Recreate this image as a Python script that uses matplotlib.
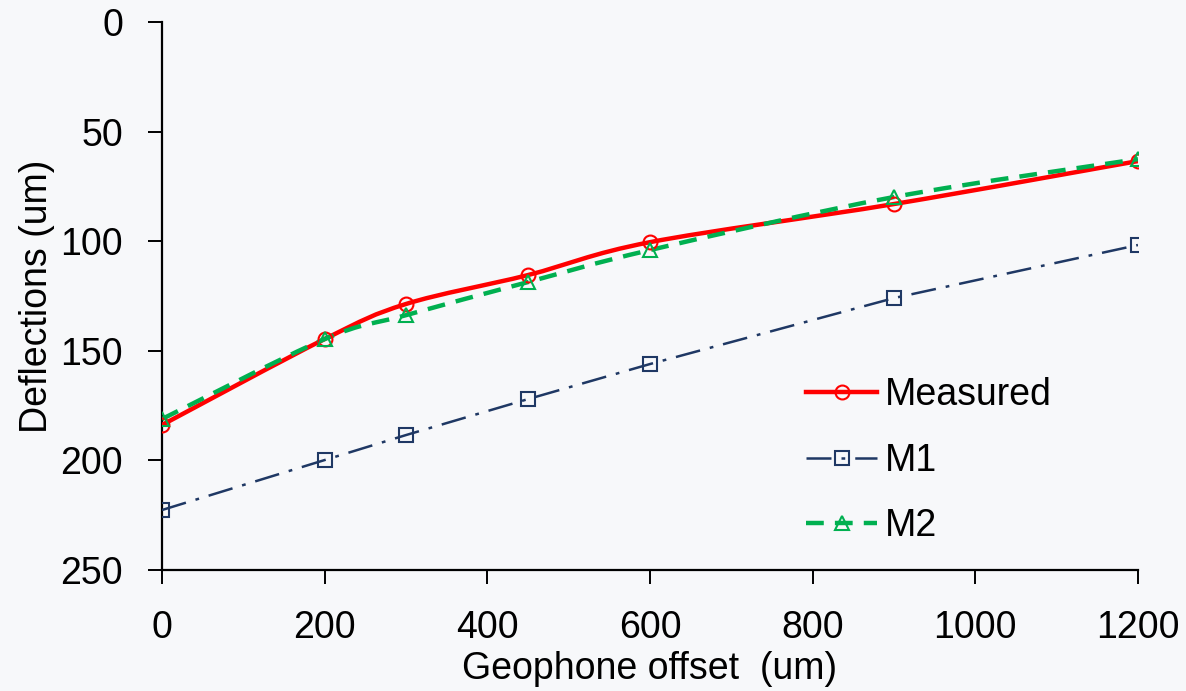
import matplotlib
matplotlib.use("Agg")
import matplotlib.pyplot as plt
import numpy as np
from matplotlib.path import Path
from matplotlib.patches import PathPatch
from matplotlib.lines import Line2D

offset = [0, 200, 300, 450, 600, 900, 1200]
measured = [183.8, 144.6, 128.6, 115.4, 100.4, 83.0, 63.4]
m1 = [222.6, 199.8, 188.4, 172.0, 156.0, 125.9, 101.7]
m2 = [181.1, 144.6, 133.7, 118.6, 104.0, 79.8, 62.5]

bg = "#f7f8fa"
red = "#ff0000"
navy = "#1f3864"
green = "#00b050"

plt.rcParams["font.family"] = ["Liberation Sans", "DejaVu Sans"]


def smooth_path(x, y):
    # Excel style smoothed line: cubic bezier through the points
    x = np.asarray(x, float)
    y = np.asarray(y, float)
    verts = [(x[0], y[0])]
    codes = [Path.MOVETO]
    n = len(x)
    t = 1.0 / 6.0
    for i in range(n - 1):
        x0, y0 = (x[i - 1], y[i - 1]) if i > 0 else (x[i], y[i])
        x3, y3 = (x[i + 2], y[i + 2]) if i + 2 < n else (x[i + 1], y[i + 1])
        c1 = (x[i] + (x[i + 1] - x0) * t, y[i] + (y[i + 1] - y0) * t)
        c2 = (x[i + 1] - (x3 - x[i]) * t, y[i + 1] - (y3 - y[i]) * t)
        verts += [c1, c2, (x[i + 1], y[i + 1])]
        codes += [Path.CURVE4] * 3
    return Path(verts, codes)


fig = plt.figure(figsize=(11.86, 6.91), dpi=100, facecolor=bg)
ax = fig.add_axes([0.1366, 0.175, 0.8229, 0.793], facecolor=bg)

ax.plot(offset, m1, color=navy, lw=1.8, ls=(0, (10, 4, 1.5, 4)),
        marker="s", ms=10, mfc="none", mec=navy, mew=1.5, zorder=3)

ax.add_patch(PathPatch(smooth_path(offset, measured), fc="none", ec=red, lw=3.2,
                       zorder=3, capstyle="round"))
ax.plot(offset, measured, ls="none", marker="o", ms=10, mfc="none", mec=red, mew=1.5, zorder=4)

ax.add_patch(PathPatch(smooth_path(offset, m2), fc="none", ec=green, lw=3.2,
                       ls=(0, (4, 2.5)), zorder=3))
ax.plot(offset, m2, ls="none", marker="^", ms=10, mfc="none", mec=green, mew=1.5, zorder=4)

ax.set_xlim(0, 1200)
ax.set_ylim(250, 0)
ax.set_xticks(range(0, 1201, 200))
ax.set_yticks(range(0, 251, 50))
for s in ["top", "right"]:
    ax.spines[s].set_visible(False)
for s in ["left", "bottom"]:
    ax.spines[s].set_linewidth(1.6)
ax.tick_params(axis="both", direction="out", length=10, width=1.4, labelsize=27)
ax.tick_params(axis="y", pad=18)
ax.tick_params(axis="x", pad=19)

ax.set_xlabel("Geophone offset  (um)", fontsize=27, labelpad=3)
ax.set_ylabel("Deflections (um)", fontsize=27, labelpad=4)

handles = [
    Line2D([], [], color=red, lw=3.2, marker="o", ms=10, mfc="none", mec=red, mew=1.5),
    Line2D([], [], color=navy, lw=1.8, ls=(0, (10, 4, 1.5, 4)), marker="s", ms=10,
           mfc="none", mec=navy, mew=1.5),
    Line2D([], [], color=green, lw=3.2, ls=(0, (4, 2.5)), marker="^", ms=10,
           mfc="none", mec=green, mew=1.5),
]
ax.legend(handles, ["Measured", "M1", "M2"], loc="upper left",
          bbox_to_anchor=(0.66, 0.352), frameon=False, fontsize=27,
          borderpad=0, borderaxespad=0,
          handlelength=1.9, labelspacing=0.79, handletextpad=0.2)

fig.savefig("out.png", dpi=100, facecolor=bg)
